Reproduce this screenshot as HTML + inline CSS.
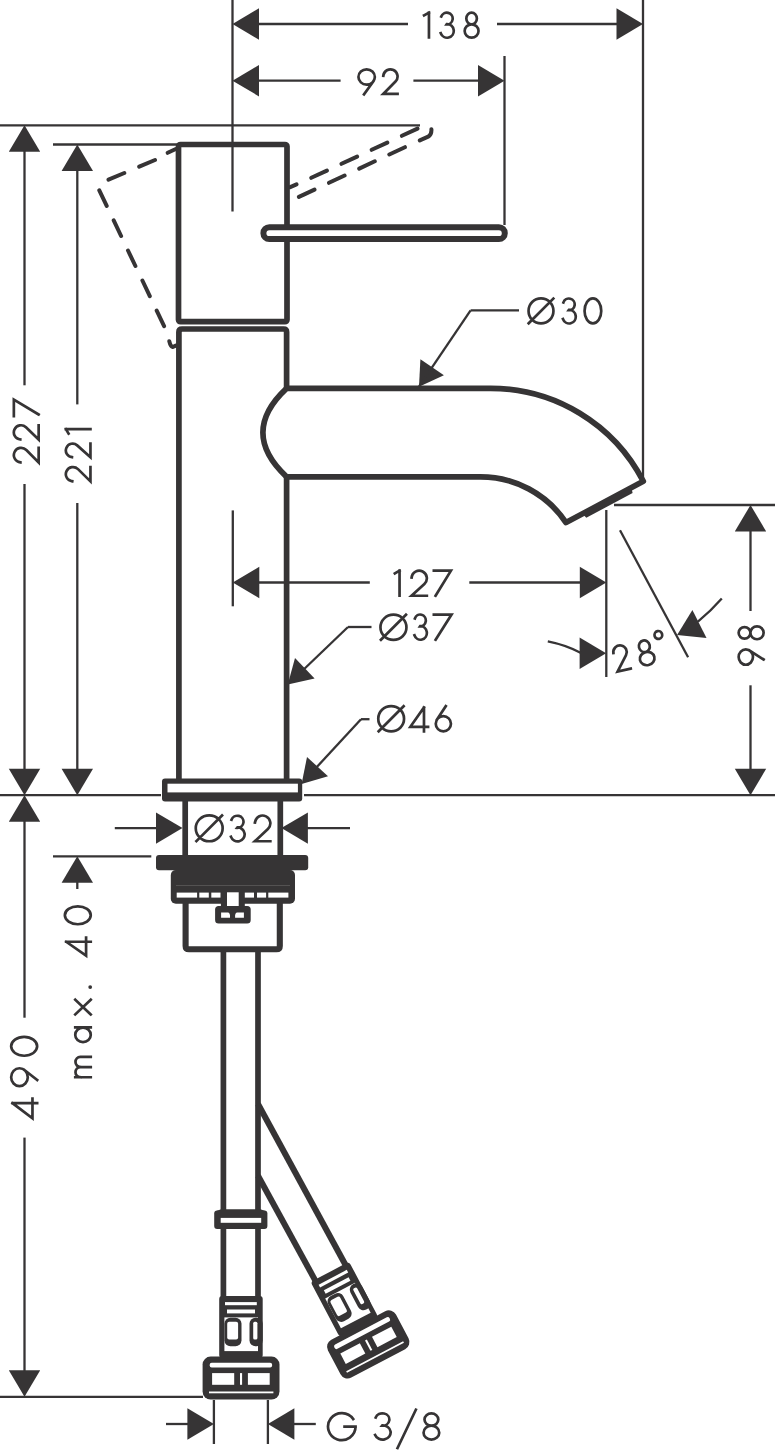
<!DOCTYPE html>
<html><head><meta charset="utf-8"><style>
html,body{margin:0;padding:0;background:#fff;}
svg{display:block;}
text{font-family:"Liberation Sans",sans-serif;fill:#363435;stroke:none;}
.f{fill:#363435;stroke:none;}
</style></head><body>
<svg width="776" height="1454" viewBox="0 0 776 1454" stroke="#363435" fill="none" stroke-linecap="butt">
<line x1="232.5" y1="0.0" x2="232.5" y2="211.5" stroke-width="2.3" />
<line x1="643.0" y1="0.0" x2="643.0" y2="479.0" stroke-width="2.3" />
<polygon class="f" points="232.5,24.0 259.0,8.3 259.0,39.7"/>
<line x1="259.0" y1="24.0" x2="408.0" y2="24.0" stroke-width="2.3" />
<line x1="497.0" y1="24.0" x2="617.0" y2="24.0" stroke-width="2.3" />
<polygon class="f" points="643.0,24.0 616.5,39.7 616.5,8.3"/>
<polygon class="f" points="232.5,80.7 259.0,65.0 259.0,96.4"/>
<line x1="259.0" y1="80.7" x2="340.6" y2="80.7" stroke-width="2.3" />
<line x1="413.4" y1="80.7" x2="479.0" y2="80.7" stroke-width="2.3" />
<polygon class="f" points="504.5,80.7 478.0,96.4 478.0,65.0"/>
<line x1="504.5" y1="56.0" x2="504.5" y2="225.0" stroke-width="2.3" />
<line x1="0.0" y1="125.3" x2="420.0" y2="125.3" stroke-width="2.3" />
<line x1="53.0" y1="144.5" x2="177.0" y2="144.5" stroke-width="2.3" />
<polygon class="f" points="24.5,125.3 40.2,151.8 8.8,151.8"/>
<line x1="24.5" y1="150.0" x2="24.5" y2="385.3" stroke-width="2.3" />
<line x1="24.5" y1="484.1" x2="24.5" y2="770.0" stroke-width="2.3" />
<polygon class="f" points="24.5,795.2 8.8,768.7 40.2,768.7"/>
<polygon class="f" points="77.3,144.5 93.0,171.0 61.6,171.0"/>
<line x1="77.3" y1="169.0" x2="77.3" y2="404.4" stroke-width="2.3" />
<line x1="77.3" y1="502.9" x2="77.3" y2="770.0" stroke-width="2.3" />
<polygon class="f" points="77.3,795.2 61.6,768.7 93.0,768.7"/>
<line x1="0.0" y1="795.2" x2="161.0" y2="795.2" stroke-width="2.3" />
<line x1="304.0" y1="795.2" x2="775.0" y2="795.2" stroke-width="2.3" />
<polygon class="f" points="24.5,795.2 40.2,821.7 8.8,821.7"/>
<line x1="24.5" y1="820.0" x2="24.5" y2="1017.7" stroke-width="2.3" />
<line x1="24.5" y1="1137.6" x2="24.5" y2="1372.0" stroke-width="2.3" />
<polygon class="f" points="24.5,1396.8 8.8,1370.3 40.2,1370.3"/>
<line x1="0.0" y1="1396.8" x2="203.0" y2="1396.8" stroke-width="2.3" />
<line x1="53.0" y1="856.3" x2="151.3" y2="856.3" stroke-width="2.3" />
<polygon class="f" points="77.3,856.3 93.0,882.8 61.6,882.8"/>
<line x1="77.3" y1="880.0" x2="77.3" y2="889.0" stroke-width="2.3" />
<line x1="232.8" y1="510.4" x2="232.8" y2="606.3" stroke-width="2.3" />
<polygon class="f" points="232.8,582.5 259.3,566.8 259.3,598.2"/>
<line x1="258.0" y1="582.5" x2="369.8" y2="582.5" stroke-width="2.3" />
<line x1="469.3" y1="582.5" x2="581.0" y2="582.5" stroke-width="2.3" />
<polygon class="f" points="606.3,582.5 579.8,598.2 579.8,566.8"/>
<line x1="606.3" y1="510.0" x2="606.3" y2="677.0" stroke-width="2.3" />
<line x1="614.0" y1="505.0" x2="775.0" y2="505.0" stroke-width="2.3" />
<polygon class="f" points="750.5,505.0 766.2,531.5 734.8,531.5"/>
<line x1="750.5" y1="529.0" x2="750.5" y2="611.0" stroke-width="2.3" />
<line x1="750.5" y1="685.3" x2="750.5" y2="770.0" stroke-width="2.3" />
<polygon class="f" points="750.5,795.2 734.8,768.7 766.2,768.7"/>
<line x1="620.0" y1="530.2" x2="688.1" y2="657.3" stroke-width="2.3" />
<polygon class="f" points="606.1,653.2 579.6,668.9 579.6,637.5"/>
<path d="M547.8,641.4 Q566,645 581,653" fill="none" stroke-width="2.3"/>
<polygon class="f" points="677.1,635.1 692.4,609.9 706.5,637.9"/>
<path d="M697.9,621.6 Q711,611 721.8,598.6" fill="none" stroke-width="2.3"/>
<polygon class="f" points="419.0,386.7 420.4,359.3 443.9,375.2"/>
<line x1="470.6" y1="310.3" x2="419.0" y2="386.7" stroke-width="2.3" />
<line x1="470.6" y1="310.3" x2="519.0" y2="310.3" stroke-width="2.3" />
<polygon class="f" points="287.8,684.5 295.0,658.0 314.6,678.5"/>
<line x1="348.0" y1="627.0" x2="300.0" y2="673.0" stroke-width="2.3" />
<line x1="348.0" y1="627.0" x2="371.5" y2="627.0" stroke-width="2.3" />
<polygon class="f" points="301.6,783.9 307.0,757.0 328.0,776.2"/>
<line x1="361.0" y1="719.2" x2="315.0" y2="769.0" stroke-width="2.3" />
<line x1="361.0" y1="719.2" x2="369.5" y2="719.2" stroke-width="2.3" />
<line x1="114.8" y1="828.1" x2="160.0" y2="828.1" stroke-width="2.3" />
<polygon class="f" points="182.5,828.1 156.0,843.8 156.0,812.4"/>
<polygon class="f" points="281.4,828.1 307.9,812.4 307.9,843.8"/>
<line x1="306.0" y1="828.1" x2="350.0" y2="828.1" stroke-width="2.3" />
<line x1="213.9" y1="1400.0" x2="213.9" y2="1444.0" stroke-width="2.3" />
<line x1="267.9" y1="1400.0" x2="267.9" y2="1444.0" stroke-width="2.3" />
<line x1="166.0" y1="1424.0" x2="189.0" y2="1424.0" stroke-width="2.3" />
<polygon class="f" points="213.9,1424.0 187.4,1439.7 187.4,1408.3"/>
<polygon class="f" points="267.9,1424.0 294.4,1408.3 294.4,1439.7"/>
<line x1="293.0" y1="1424.0" x2="315.8" y2="1424.0" stroke-width="2.3" />
<path d="M428.95,12.65 V37.45 M424.05,15.38 L428.95,12.65 M441.24,16.52 A5.9,5.88 0 1 1 446.58,24.4 L446.82,24.05 A6.7,6.8 0 1 1 440.75,33.18 M466.32,18.52 A5.28,5.88 0 1 1 476.88,18.52 A5.28,5.88 0 1 1 466.32,18.52 Z M464.65,31.02 A6.95,6.62 0 1 1 478.55,31.02 A6.95,6.62 0 1 1 464.65,31.02 Z M358.45,76.98 A8.2,7.63 0 1 1 374.85,76.98 A8.2,7.63 0 1 1 358.45,76.98 Z M364.03,94.35 L373.25,81.5 M383.29,75.75 A7.15,7.15 0 1 1 395.49,81.52 L383.25,93.95 L397.55,93.95 M399.55,570.65 V595.75 M394.85,573.41 L399.55,570.65 M411.59,577.5 A7.65,7.65 0 1 1 424.38,583.93 L411.55,595.75 L426.85,595.75 M433.85,570.65 H450.95 L435.56,595.75 M380.45,627.3 A13,12.65 0 1 1 406.45,627.3 A13,12.65 0 1 1 380.45,627.3 Z M380.93,639.82 L405.97,614.78 M414.9,618.45 A5.63,5.92 0 1 1 420,626.39 L420.23,626.05 A6.4,6.85 0 1 1 414.44,635.24 M433.85,614.55 H451.55 L435.62,639.75 M378.25,718.75 A12.9,12.6 0 1 1 404.05,718.75 A12.9,12.6 0 1 1 378.25,718.75 Z M378.68,731.22 L403.62,706.28 M423.98,731.35 V707.5 M423.98,707.5 L410.35,726.81 H428.05 M435.75,723.75 A7.6,7.6 0 1 1 450.95,723.75 A7.6,7.6 0 1 1 435.75,723.75 Z M445.78,706.15 L436.99,719.59 M528.55,310.9 A12.45,12.55 0 1 1 553.45,310.9 A12.45,12.55 0 1 1 528.55,310.9 Z M528.68,323.22 L553.32,298.58 M563.43,302.4 A5.81,5.85 0 1 1 568.68,310.25 L568.92,309.91 A6.6,6.77 0 1 1 562.95,318.99 M584.55,310.9 A8.35,12.55 0 1 1 601.25,310.9 A8.35,12.55 0 1 1 584.55,310.9 Z M195.75,828.3 A13.45,12.95 0 1 1 222.65,828.3 A13.45,12.95 0 1 1 195.75,828.3 Z M196.38,841.12 L222.02,815.48 M231.49,819.72 A6.2,6.04 0 1 1 237.1,827.83 L237.35,827.47 A7.05,6.99 0 1 1 230.98,836.85 M254.89,822.49 A7.75,7.75 0 1 1 267.91,828.94 L254.85,841.25 L270.35,841.25 M355.55,1426.6 A13.75,13.55 0 1 1 353.2,1419.02 M355.55,1426.6 H344.55 M375.71,1417.42 A7.04,6.18 0 1 1 382.08,1425.71 L382.37,1425.35 A8,7.15 0 1 1 375.13,1434.94 M397.55,1448.05 L415.85,1409.75 M424.49,1419.53 A6.91,6.18 0 1 1 438.31,1419.53 A6.91,6.18 0 1 1 424.49,1419.53 Z M423.55,1432.68 A7.85,6.97 0 1 1 439.25,1432.68 A7.85,6.97 0 1 1 423.55,1432.68 Z " stroke-width="2.7" stroke-linecap="square"/>
<g transform="rotate(-90)"><path d="M-462.41,20.39 A7.3,7.3 0 1 1 -450.01,26.34 L-462.45,38.65 L-447.85,38.65 M-439.51,20.25 A7.15,7.15 0 1 1 -427.27,25.98 L-439.55,38.65 L-425.25,38.65 M-416.15,13.85 H-399.65 L-414.5,38.65 M-481.31,72.25 A7.15,7.15 0 1 1 -469.11,78.02 L-481.35,90.45 L-467.05,90.45 M-457.21,71.94 A6.8,6.8 0 1 1 -445.38,77.18 L-457.25,90.45 L-443.65,90.45 M-429.15,65.85 V90.45 M-433.55,68.56 L-429.15,65.85 M-1103.18,37.15 V12.5 M-1103.18,12.5 L-1118.35,32.47 H-1098.65 M-1086.15,19.47 A8.95,8.32 0 1 1 -1068.25,19.47 A8.95,8.32 0 1 1 -1086.15,19.47 Z M-1080.06,37.15 L-1070.26,24.73 M-1055.75,24.15 A9.4,13 0 1 1 -1036.95,24.15 A9.4,13 0 1 1 -1055.75,24.15 Z M-1077.25,90.75 V75.25 M-1077.25,80.33 A5.08,5.08 0 0 1 -1067.1,80.33 V90.75 M-1067.1,80.33 A5.08,5.08 0 0 1 -1056.95,80.33 V90.75 M-1042.15,83 A7.2,7.75 0 1 1 -1027.74,83 A7.2,7.75 0 1 1 -1042.15,83 Z M-1027.45,75.25 V90.75 M-1014.45,75.25 L-999.75,90.75 M-999.75,75.25 L-1014.45,90.75 M-941.77,90.75 V66.2 M-941.77,66.2 L-955.55,86.09 H-937.65 M-924.25,77.8 A8.95,12.95 0 1 1 -906.35,77.8 A8.95,12.95 0 1 1 -924.25,77.8 Z M-664.75,745.81 A7.7,7.16 0 1 1 -649.35,745.81 A7.7,7.16 0 1 1 -664.75,745.81 Z M-659.51,763.65 L-650.61,749.73 M-638.61,744.52 A5.76,5.88 0 1 1 -627.09,744.52 A5.76,5.88 0 1 1 -638.61,744.52 Z M-639.25,757.02 A6.4,6.62 0 1 1 -626.45,757.02 A6.4,6.62 0 1 1 -639.25,757.02 Z " stroke-width="2.7" stroke-linecap="square"/></g>
<g transform="translate(616.7 672.4) rotate(-13)"><path d="M1.09,-19.71 A6.75,6.75 0 1 1 12.96,-14.64 L1.05,-0.55 L14.55,-0.55 M27.36,-19.2 A5.44,5.9 0 1 1 38.24,-19.2 A5.44,5.9 0 1 1 27.36,-19.2 Z M25.45,-6.65 A7.35,6.65 0 1 1 40.15,-6.65 A7.35,6.65 0 1 1 25.45,-6.65 Z M45.15,-27.1 A3.85,3.95 0 1 1 52.85,-27.1 A3.85,3.95 0 1 1 45.15,-27.1 Z " stroke-width="2.7" stroke-linecap="square"/></g>
<circle cx="90.2" cy="987.1" r="1.9" class="f"/>
<rect x="178.5" y="144.5" width="108.5" height="177.2" rx="2" fill="none" stroke-width="5.7"/>
<rect x="263.4" y="227.25" width="241.4" height="11.8" rx="5.9" fill="#fff" stroke-width="6"/>
<path d="M178.9,781 V332 Q178.9,329 182,329 H283.6 Q286.6,329 286.6,332 V388.3 M286.6,476.8 V781" fill="none" stroke-width="5.7"/>
<path d="M286.6,388.3 L490,388.3 A172,172 0 0 1 643.3,481.3 L566,522.6 A103,103 0 0 0 480,476.8 L286.6,476.8 Q239.2,432.5 286.6,388.3 Z" fill="#fff" stroke-width="5.7" stroke-linejoin="round"/>
<polygon class="f" points="631.4,487.7 582.4,513.8 586.3,517.8 632.6,493.0"/>
<rect class="f" x="162" y="778.6" width="140.2" height="23" rx="3"/>
<rect x="167.5" y="783.7" width="130.4" height="8.7" fill="#fff" stroke="none"/>
<line x1="185.2" y1="801.0" x2="185.2" y2="856.0" stroke-width="5.7" />
<line x1="280.3" y1="801.0" x2="280.3" y2="856.0" stroke-width="5.7" />
<rect class="f" x="156" y="855" width="152.2" height="15.2" rx="3"/>
<rect class="f" x="170.8" y="870" width="124.2" height="33.8" rx="5"/>
<rect x="176.7" y="892.6" width="20.4" height="5" fill="#fff" stroke="none"/>
<rect x="199.3" y="892.6" width="9.5" height="5" fill="#fff" stroke="none"/>
<rect x="211.3" y="892.6" width="9.2" height="5" fill="#fff" stroke="none"/>
<rect x="244.8" y="892.6" width="9.2" height="5" fill="#fff" stroke="none"/>
<rect x="257" y="892.6" width="9.1" height="5" fill="#fff" stroke="none"/>
<rect x="268.3" y="892.6" width="20.1" height="5" fill="#fff" stroke="none"/>
<rect class="f" x="220.9" y="900" width="23.9" height="8"/>
<rect x="227" y="892.3" width="11.7" height="13.7" fill="#fff" stroke="none"/>
<line x1="176" y1="885.5" x2="290" y2="885.5" stroke="#5c5a5b" stroke-width="0.8"/>
<rect class="f" x="215.1" y="906" width="35.6" height="17.5" rx="3.5"/>
<path d="M221.1,912.6 H228.3 Q229.5,913 230,915 V917.7 H221.1 Z M243.9,912.6 H236.8 Q235.6,913 235.1,915 V917.7 H243.9 Z" fill="#fff" stroke="none"/>
<path d="M185.6,903 V946 Q185.6,949.3 189,949.3 H276.5 Q279.8,949.3 279.8,946 V903" fill="none" stroke-width="6.1000000000000005"/>
<line x1="223.4" y1="952.0" x2="223.4" y2="1298.0" stroke-width="5.7" />
<line x1="258.0" y1="952.0" x2="258.0" y2="1298.0" stroke-width="5.7" />
<path class="f" d="M221,1209.3 H260.5 L265,1211 H216.5 Z"/>
<rect class="f" x="214.2" y="1210.6" width="53.2" height="18.3" rx="3"/>
<rect x="220.7" y="1217.9" width="40.5" height="4.9" fill="#fff" stroke="none"/>
<g transform="translate(241 1399.5)"><rect class="f" x="-21.8" y="-103.5" width="43.5" height="62" rx="3"/><rect x="-16" y="-97.4" width="31.8" height="3.1" fill="#fff" stroke="none"/><rect x="-14" y="-90" width="28" height="3.9" fill="#fff" stroke="none"/><rect x="-16.6" y="-82.1" width="33.6" height="33.7" fill="#fff" stroke="none"/><rect class="f" x="-16.6" y="-81.7" width="17.1" height="28.4" rx="6"/><rect x="-13.8" y="-77.8" width="10.9" height="17.8" rx="2" fill="#fff" stroke="none"/><rect class="f" x="8.5" y="-81.7" width="13.2" height="28.4" rx="6"/><rect x="12.2" y="-77.8" width="4.2" height="17.8" rx="1.5" fill="#fff" stroke="none"/><rect class="f" x="-38.4" y="-42.9" width="76.9" height="42.9" rx="8"/><rect x="-31.3" y="-36.8" width="62.4" height="4.9" rx="2" fill="#fff" stroke="none"/><rect x="-28.9" y="-26.4" width="22.1" height="11.7" fill="#fff" stroke="none"/><rect x="6.9" y="-26.4" width="21.8" height="11.7" fill="#fff" stroke="none"/><rect x="-1" y="-26.4" width="2.1" height="11.7" fill="#fff" stroke="none"/><rect x="-32" y="-8" width="64.4" height="1.8" fill="#fff" stroke="none"/></g>
<line x1="258.0" y1="1104.0" x2="345.7" y2="1265.2" stroke-width="6" />
<line x1="258.0" y1="1175.8" x2="315.6" y2="1281.1" stroke-width="6" />
<g transform="translate(378.2 1363.4) rotate(-27.8)"><rect class="f" x="-21.8" y="-103.5" width="43.5" height="62" rx="3"/><rect x="-16" y="-97.4" width="31.8" height="3.1" fill="#fff" stroke="none"/><rect x="-14" y="-90" width="28" height="3.9" fill="#fff" stroke="none"/><rect x="-16.6" y="-82.1" width="33.6" height="33.7" fill="#fff" stroke="none"/><rect class="f" x="-16.6" y="-81.7" width="17.1" height="28.4" rx="6"/><rect x="-13.8" y="-77.8" width="10.9" height="17.8" rx="2" fill="#fff" stroke="none"/><rect class="f" x="8.5" y="-81.7" width="13.2" height="28.4" rx="6"/><rect x="12.2" y="-77.8" width="4.2" height="17.8" rx="1.5" fill="#fff" stroke="none"/><rect class="f" x="-38.4" y="-42.9" width="76.9" height="42.9" rx="8"/><rect x="-31.3" y="-36.8" width="62.4" height="4.9" rx="2" fill="#fff" stroke="none"/><rect x="-28.9" y="-26.4" width="22.1" height="11.7" fill="#fff" stroke="none"/><rect x="6.9" y="-26.4" width="21.8" height="11.7" fill="#fff" stroke="none"/><rect x="-1" y="-26.4" width="2.1" height="11.7" fill="#fff" stroke="none"/><rect x="-32" y="-8" width="64.4" height="1.8" fill="#fff" stroke="none"/></g>
<path d="M290.2,187.1 L296.5,184.3 M311.3,177.8 L326.9,170.6 M341.5,163.8 L357.1,156.6 M371.7,149.8 L387.3,142.6 M401.9,135.8 L417.5,128.6 M298.9,196.9 L314.5,189.6 M329.0,182.8 L344.6,175.5 M359.2,168.6 L374.8,161.3 M389.3,154.5 L404.9,147.2 M419.8,140.4 L428.2,136.7 Q431.8,134.8 431.4,129.2 M167.7,152.8 L175.8,149.0 M155.0,160.0 L139.2,166.7 M124.3,173.0 L108.5,179.7 M99.3,190.4 L106.7,205.9 M113.7,220.4 L121.1,236.0 M128.0,250.5 L135.4,266.0 M142.4,280.5 L149.8,296.1 M156.7,310.6 L164.1,326.1 M169.3,341.2 Q170.5,346.5 172.8,347 L175.8,345.6 " fill="none" stroke-width="4.0" stroke-linecap="round" stroke-linejoin="round"/>
</svg>
</body></html>
